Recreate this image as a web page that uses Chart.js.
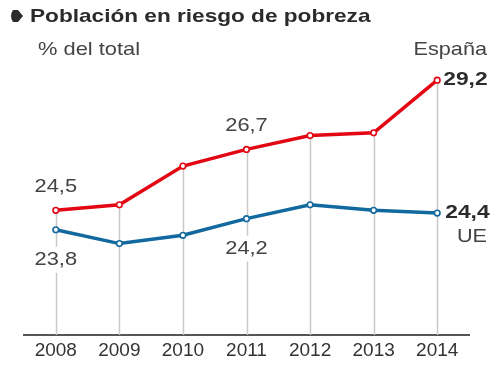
<!DOCTYPE html>
<html>
<head>
<meta charset="utf-8">
<script src="https://cdn.jsdelivr.net/npm/chart.js@4"></script>
<style>
  html, body { margin: 0; padding: 0; background: #fff; }
  canvas { display: block; }
</style>
</head>
<body>
<canvas id="chart" width="500" height="371"></canvas>
<script>
const years = ['2008', '2009', '2010', '2011', '2012', '2013', '2014'];
const espana = [24.5, 24.7, 26.1, 26.7, 27.2, 27.3, 29.2];
const ue = [23.8, 23.3, 23.6, 24.2, 24.7, 24.5, 24.4];

const FONT = '"Liberation Sans", Arial, Helvetica, sans-serif';
const RED = '#e30613';
const BLUE = '#11699f';

const fmt = v => v.toFixed(1).replace('.', ',');

// el texto del original esta algo estirado en horizontal
function stretchText(ctx, text, x, y, sx) {
  ctx.save();
  ctx.translate(x, y);
  ctx.scale(sx, 1);
  ctx.fillText(text, 0, 0);
  ctx.restore();
}

// lineas verticales desde el punto de España hasta el eje
const dropLines = {
  id: 'dropLines',
  beforeDatasetsDraw(chart) {
    const ctx = chart.ctx;
    const x = chart.scales.x, y = chart.scales.y;
    ctx.save();
    ctx.strokeStyle = '#c8c8c8';
    ctx.lineWidth = 1.5;
    espana.forEach((v, i) => {
      const px = Math.round(x.getPixelForValue(i)) + 0.5;
      ctx.beginPath();
      ctx.moveTo(px, y.getPixelForValue(v));
      ctx.lineTo(px, chart.chartArea.bottom);
      ctx.stroke();
    });
    ctx.restore();
  }
};

const texts = {
  id: 'texts',
  afterDatasetsDraw(chart) {
    const ctx = chart.ctx;
    const x = chart.scales.x, y = chart.scales.y;
    ctx.save();
    ctx.textBaseline = 'middle';

    // titulo
    ctx.fillStyle = '#2b2b2b';
    ctx.beginPath();
    ctx.moveTo(13, 10);
    ctx.lineTo(18, 10);
    ctx.lineTo(23, 16);
    ctx.lineTo(18, 22);
    ctx.lineTo(13, 22);
    ctx.quadraticCurveTo(9, 16, 13, 10);
    ctx.fill();
    ctx.font = 'bold 19px ' + FONT;
    ctx.textAlign = 'left';
    stretchText(ctx, 'Población en riesgo de pobreza', 30, 17, 1.19);

    ctx.fillStyle = '#444';
    ctx.font = '19px ' + FONT;
    stretchText(ctx, '% del total', 38, 50, 1.15);
    ctx.textAlign = 'right';
    stretchText(ctx, 'España', 487, 50, 1.14);
    stretchText(ctx, 'UE', 487, 237, 1.14);

    // ultimos valores
    ctx.fillStyle = '#2b2b2b';
    ctx.font = 'bold 19px ' + FONT;
    ctx.textAlign = 'left';
    const last = years.length - 1;
    stretchText(ctx, fmt(espana[last]), x.getPixelForValue(last) + 6, y.getPixelForValue(espana[last]), 1.2);
    stretchText(ctx, fmt(ue[last]), x.getPixelForValue(last) + 8, y.getPixelForValue(ue[last]), 1.2);

    // etiquetas de 2008 y 2011
    ctx.font = '19px ' + FONT;
    ctx.textAlign = 'center';
    ctx.fillStyle = '#444';
    [0, 3].forEach(i => {
      const px = x.getPixelForValue(i);
      stretchText(ctx, fmt(espana[i]), px, y.getPixelForValue(espana[i]) - 24, 1.15);
      const ly = y.getPixelForValue(ue[i]) + 30;
      const w = ctx.measureText(fmt(ue[i])).width * 1.15;
      ctx.fillStyle = '#fff';
      ctx.fillRect(px - w / 2 - 2, ly - 13, w + 4, 26);
      ctx.fillStyle = '#444';
      stretchText(ctx, fmt(ue[i]), px, ly, 1.15);
    });
    ctx.restore();
  }
};

const pointStyle = color => ({
  borderColor: color,
  borderWidth: 3.5,
  pointRadius: 2.8,
  pointBorderWidth: 1.6,
  pointBackgroundColor: '#fff',
  pointBorderColor: color,
  tension: 0,
  fill: false
});

new Chart(document.getElementById('chart'), {
  type: 'line',
  data: {
    labels: years,
    datasets: [
      Object.assign({ label: 'España', data: espana }, pointStyle(RED)),
      Object.assign({ label: 'UE', data: ue }, pointStyle(BLUE))
    ]
  },
  options: {
    responsive: false,
    animation: false,
    layout: { padding: { left: 24, right: 31, top: 58, bottom: 0 } },
    plugins: {
      legend: { display: false },
      tooltip: { enabled: false }
    },
    scales: {
      x: {
        offset: true,
        grid: { display: false, drawTicks: false },
        border: { color: '#555', width: 2 },
        ticks: { color: '#333', font: { family: FONT, size: 19 }, padding: 4 },
        afterFit(scale) { scale.height = 36; }
      },
      y: {
        display: false,
        min: 20,
        max: 30
      }
    }
  },
  plugins: [dropLines, texts]
});
</script>
</body>
</html>
